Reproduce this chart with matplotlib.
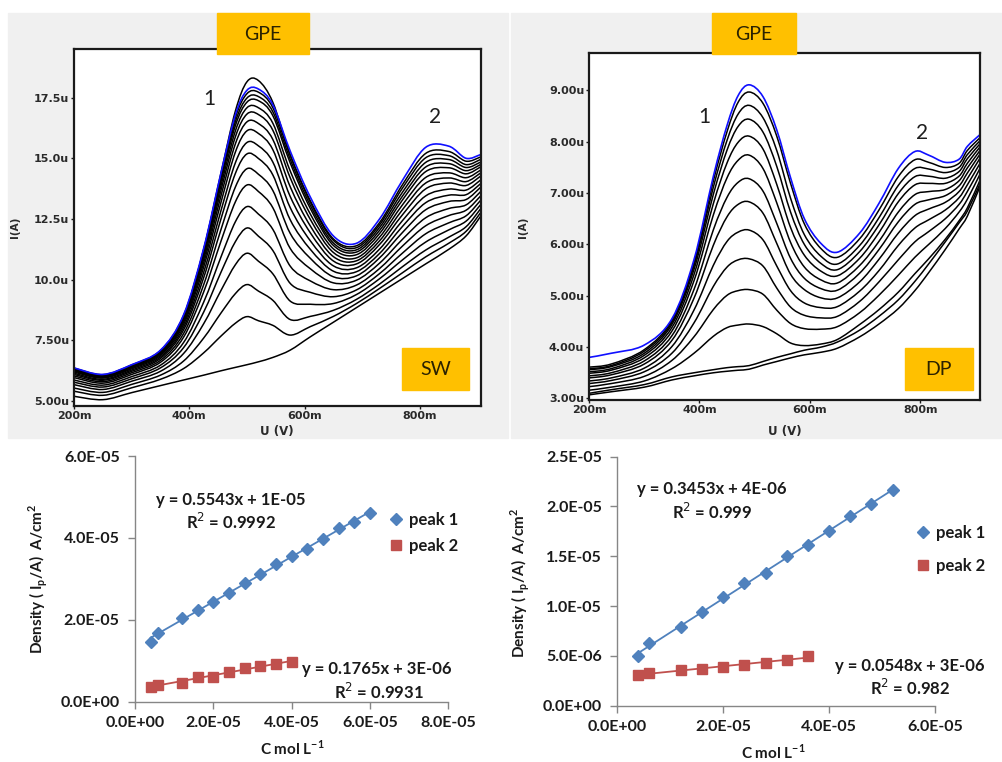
import numpy as np
import matplotlib
matplotlib.use("Agg")
import matplotlib.pyplot as plt
from matplotlib.patches import Rectangle, PathPatch
from matplotlib.path import Path
from matplotlib.ticker import FuncFormatter

W, H = 1003, 762

# ---------- square wave voltammograms (U in mV, I in uA) ----------
sw_u = [200, 250, 300, 350, 390, 425, 455, 480, 500, 520, 545, 575, 610, 650, 690, 730, 770, 810, 850, 880, 905]
sw_blank = [5.2, 5.06, 5.35, 5.64, 5.87, 6.07, 6.25, 6.39, 6.5, 6.62, 6.8, 7.1, 7.65, 8.25, 8.85, 9.45, 10.05, 10.65, 11.25, 11.8, 12.6]
sw_curves = [
    [5.41, 5.24, 5.55, 5.9, 6.34, 6.99, 7.68, 8.21, 8.48, 8.31, 8.12, 7.72, 8.07, 8.49, 9.02, 9.64, 10.29, 10.94, 11.5, 11.99, 12.75],
    [5.54, 5.36, 5.69, 6.07, 6.65, 7.6, 8.63, 9.43, 9.8, 9.53, 9.15, 8.36, 8.49, 8.74, 9.19, 9.82, 10.54, 11.22, 11.75, 12.18, 12.91],
    [5.68, 5.48, 5.82, 6.23, 6.96, 8.19, 9.56, 10.62, 11.09, 10.76, 10.24, 9.12, 8.99, 9.02, 9.39, 10.04, 10.82, 11.55, 12.05, 12.41, 13.08],
    [5.78, 5.58, 5.92, 6.37, 7.2, 8.67, 10.31, 11.57, 12.13, 11.79, 11.2, 9.85, 9.48, 9.3, 9.58, 10.25, 11.1, 11.89, 12.34, 12.63, 13.26],
    [5.87, 5.66, 6.01, 6.48, 7.41, 9.08, 10.94, 12.39, 13.01, 12.7, 12.07, 10.56, 9.95, 9.59, 9.78, 10.46, 11.39, 12.22, 12.64, 12.86, 13.44],
    [5.97, 5.74, 6.1, 6.6, 7.63, 9.5, 11.59, 13.21, 13.9, 13.63, 12.96, 11.29, 10.45, 9.87, 9.98, 10.68, 11.67, 12.55, 12.93, 13.08, 13.62],
    [6.04, 5.8, 6.17, 6.68, 7.78, 9.8, 12.07, 13.82, 14.57, 14.34, 13.67, 11.91, 10.88, 10.12, 10.16, 10.9, 11.95, 12.88, 13.22, 13.3, 13.8],
    [6.1, 5.86, 6.23, 6.76, 7.93, 10.09, 12.51, 14.38, 15.18, 14.99, 14.31, 12.47, 11.25, 10.35, 10.33, 11.08, 12.2, 13.17, 13.48, 13.5, 13.95],
    [6.15, 5.9, 6.28, 6.82, 8.04, 10.31, 12.85, 14.82, 15.65, 15.51, 14.84, 12.97, 11.6, 10.57, 10.49, 11.26, 12.44, 13.45, 13.73, 13.69, 14.1],
    [6.2, 5.95, 6.33, 6.88, 8.15, 10.53, 13.19, 15.26, 16.13, 16.02, 15.35, 13.43, 11.93, 10.77, 10.65, 11.45, 12.68, 13.74, 13.98, 13.88, 14.26],
    [6.24, 5.98, 6.37, 6.93, 8.24, 10.7, 13.46, 15.6, 16.5, 16.43, 15.77, 13.83, 12.21, 10.95, 10.78, 11.6, 12.89, 13.98, 14.19, 14.04, 14.39],
    [6.27, 6.01, 6.4, 6.97, 8.32, 10.85, 13.69, 15.89, 16.82, 16.8, 16.15, 14.2, 12.48, 11.12, 10.9, 11.75, 13.09, 14.21, 14.4, 14.2, 14.51],
    [6.3, 6.03, 6.43, 7.01, 8.38, 10.97, 13.88, 16.13, 17.08, 17.08, 16.44, 14.48, 12.7, 11.27, 11.03, 11.9, 13.29, 14.45, 14.61, 14.36, 14.64],
    [6.32, 6.06, 6.45, 7.04, 8.43, 11.07, 14.05, 16.35, 17.31, 17.37, 16.75, 14.81, 12.93, 11.41, 11.14, 12.03, 13.45, 14.64, 14.78, 14.49, 14.74],
    [6.34, 6.07, 6.47, 7.06, 8.47, 11.15, 14.17, 16.51, 17.48, 17.54, 16.91, 14.96, 13.06, 11.51, 11.23, 12.15, 13.61, 14.83, 14.95, 14.62, 14.84],
    [6.36, 6.09, 6.49, 7.08, 8.52, 11.24, 14.3, 16.68, 17.66, 17.72, 17.08, 15.12, 13.19, 11.62, 11.32, 12.26, 13.78, 15.02, 15.11, 14.74, 14.95],
    [6.3, 6.02, 6.45, 7.05, 8.45, 11.25, 14.4, 16.95, 18.15, 18.2, 17.3, 15.15, 13.25, 11.68, 11.4, 12.35, 13.92, 15.2, 15.28, 14.88, 15.05],
]
sw_last = [6.37, 6.1, 6.5, 7.1, 8.55, 11.3, 14.4, 16.8, 17.8, 17.85, 17.2, 15.3, 13.4, 11.8, 11.5, 12.5, 14.1, 15.45, 15.5, 15.0, 15.15]

# ---------- differential pulse voltammograms ----------
dp_u = [200, 240, 300, 350, 390, 425, 450, 470, 490, 515, 540, 565, 590, 620, 650, 690, 725, 760, 790, 815, 845, 870, 885, 908]
dp_blank = [3.07, 3.13, 3.22, 3.36, 3.44, 3.5, 3.53, 3.55, 3.57, 3.65, 3.72, 3.79, 3.85, 3.9, 3.98, 4.2, 4.45, 4.75, 5.1, 5.45, 5.9, 6.3, 6.55, 7.13]
dp_blank2 = [3.1, 3.17, 3.27, 3.42, 3.5, 3.56, 3.6, 3.62, 3.64, 3.72, 3.8, 3.87, 3.94, 4.0, 4.1, 4.33, 4.6, 4.92, 5.28, 5.62, 6.05, 6.42, 6.65, 7.18]
dp_curves = [
    [3.16, 3.22, 3.34, 3.58, 3.88, 4.21, 4.38, 4.43, 4.45, 4.4, 4.26, 4.08, 4.03, 4.06, 4.15, 4.44, 4.73, 5.07, 5.43, 5.72, 6.1, 6.46, 6.71, 7.25],
    [3.23, 3.29, 3.43, 3.74, 4.2, 4.73, 5.01, 5.1, 5.12, 5.03, 4.72, 4.46, 4.36, 4.35, 4.4, 4.67, 5.01, 5.4, 5.75, 6.0, 6.31, 6.63, 6.88, 7.37],
    [3.29, 3.35, 3.52, 3.88, 4.47, 5.18, 5.56, 5.7, 5.72, 5.58, 5.15, 4.78, 4.62, 4.57, 4.6, 4.89, 5.27, 5.7, 6.05, 6.25, 6.5, 6.78, 7.03, 7.48],
    [3.34, 3.4, 3.59, 4.01, 4.72, 5.59, 6.06, 6.24, 6.28, 6.09, 5.58, 5.1, 4.86, 4.77, 4.79, 5.09, 5.49, 5.98, 6.32, 6.48, 6.67, 6.91, 7.16, 7.58],
    [3.4, 3.46, 3.67, 4.13, 4.95, 5.98, 6.54, 6.78, 6.83, 6.61, 6.02, 5.42, 5.12, 4.96, 4.96, 5.27, 5.71, 6.22, 6.56, 6.69, 6.82, 7.03, 7.28, 7.68],
    [3.44, 3.5, 3.73, 4.22, 5.12, 6.28, 6.92, 7.21, 7.28, 7.04, 6.41, 5.73, 5.34, 5.14, 5.11, 5.44, 5.9, 6.44, 6.78, 6.87, 6.95, 7.14, 7.39, 7.76],
    [3.49, 3.55, 3.79, 4.31, 5.29, 6.57, 7.3, 7.64, 7.74, 7.48, 6.81, 6.04, 5.56, 5.31, 5.25, 5.59, 6.06, 6.63, 6.97, 7.03, 7.07, 7.24, 7.49, 7.83],
    [3.52, 3.58, 3.84, 4.38, 5.41, 6.79, 7.59, 7.99, 8.11, 7.86, 7.17, 6.33, 5.79, 5.48, 5.39, 5.73, 6.23, 6.83, 7.16, 7.19, 7.19, 7.33, 7.58, 7.9],
    [3.56, 3.62, 3.88, 4.44, 5.51, 6.97, 7.84, 8.3, 8.44, 8.19, 7.52, 6.63, 6.0, 5.63, 5.51, 5.86, 6.38, 6.99, 7.32, 7.33, 7.29, 7.42, 7.67, 7.96],
    [3.58, 3.64, 3.92, 4.48, 5.58, 7.11, 8.03, 8.54, 8.71, 8.47, 7.83, 6.9, 6.19, 5.77, 5.62, 5.98, 6.52, 7.15, 7.48, 7.47, 7.4, 7.5, 7.75, 8.02],
    [3.61, 3.67, 3.95, 4.52, 5.64, 7.23, 8.2, 8.77, 8.97, 8.75, 8.11, 7.19, 6.4, 5.92, 5.75, 6.11, 6.67, 7.32, 7.65, 7.6, 7.5, 7.58, 7.83, 8.08],
]
dp_last = [3.8, 3.88, 4.04, 4.55, 5.7, 7.32, 8.32, 8.9, 9.11, 8.88, 8.23, 7.3, 6.5, 6.02, 5.85, 6.22, 6.8, 7.48, 7.81, 7.74, 7.6, 7.66, 7.91, 8.14]

sw_yticks = [5.0, 7.5, 10.0, 12.5, 15.0, 17.5]
sw_ylabels = ["5.00u", "7.50u", "10.0u", "12.5u", "15.0u", "17.5u"]
dp_yticks = [3, 4, 5, 6, 7, 8, 9]
dp_ylabels = ["3.00u", "4.00u", "5.00u", "6.00u", "7.00u", "8.00u", "9.00u"]
u_ticks = [200, 400, 600, 800]
u_labels = ["200m", "400m", "600m", "800m"]

# ---------- calibration data (C and density in units of 1e-6) ----------
sw_c1 = [4, 6, 12, 16, 20, 24, 28, 32, 36, 40, 44, 48, 52, 56, 60]
sw_d1 = [14.65, 16.85, 20.4, 22.4, 24.4, 26.5, 29.1, 31.1, 33.6, 35.6, 37.3, 39.7, 42.3, 44.0, 46.0]
sw_c2 = [4, 6, 12, 16, 20, 24, 28, 32, 36, 40]
sw_d2 = [3.7, 4.1, 4.6, 6.1, 6.1, 7.2, 8.2, 8.7, 9.2, 9.8]
dp_c1 = [4, 6, 12, 16, 20, 24, 28, 32, 36, 40, 44, 48, 52]
dp_d1 = [5.0, 6.3, 7.9, 9.4, 10.9, 12.3, 13.3, 15.0, 16.1, 17.5, 19.0, 20.3, 21.7]
dp_c2 = [4, 6, 12, 16, 20, 24, 28, 32, 36]
dp_d2 = [3.07, 3.3, 3.57, 3.73, 3.9, 4.13, 4.33, 4.57, 4.97]

sw_eq = ["y = 0.5543x + 1E-05", "R$^2$ = 0.9992", "y = 0.1765x + 3E-06", "R$^2$ = 0.9931"]
dp_eq = ["y = 0.3453x + 4E-06", "R$^2$ = 0.999", "y = 0.0548x + 3E-06", "R$^2$ = 0.982"]

BLUE = "#4F81BD"
RED = "#C0504D"
GOLD = "#FFC000"


def rect(l, t, r, b):
    return [l / W, 1 - b / H, (r - l) / W, (b - t) / H]


def fx(x):
    return x / W


def fy(y):
    return 1 - y / H


def smooth_line(ax, x, y, **kw):
    # joins the read points with smooth bezier pieces that pass through every point
    x = np.asarray(x, float)
    y = np.asarray(y, float)
    n = len(x)
    verts = [(x[0], y[0])]
    codes = [Path.MOVETO]
    for i in range(n - 1):
        xa, ya = (x[i - 1], y[i - 1]) if i > 0 else (x[i], y[i])
        xb, yb = (x[i + 2], y[i + 2]) if i + 2 < n else (x[i + 1], y[i + 1])
        verts.append((x[i] + (x[i + 1] - xa) / 6, y[i] + (y[i + 1] - ya) / 6))
        verts.append((x[i + 1] - (xb - x[i]) / 6, y[i + 1] - (yb - y[i]) / 6))
        verts.append((x[i + 1], y[i + 1]))
        codes += [Path.CURVE4] * 3
    ax.add_patch(PathPatch(Path(verts, codes), fill=False, capstyle="round",
                           joinstyle="round", **kw))


fig = plt.figure(figsize=(W / 100, H / 100), dpi=100)

# grey panels behind the voltammograms
for l, r in [(8, 508), (511, 1003)]:
    fig.patches.append(Rectangle((fx(l), fy(438)), (r - l) / W, (438 - 13) / H,
                                 transform=fig.transFigure, color="#f0f0f0", zorder=-5))


def voltammogram(box, u, blank, curves, last, xmax, ylim, yticks, ylabels, extra=None):
    ax = fig.add_axes(rect(*box))
    ax.set_facecolor("white")
    smooth_line(ax, u, blank, edgecolor="black", lw=1.1)
    if extra is not None:
        smooth_line(ax, u, extra, edgecolor="black", lw=1.1)
    for c in curves:
        smooth_line(ax, u, c, edgecolor="black", lw=1.1)
    smooth_line(ax, u, last, edgecolor="#1010ff", lw=1.2)
    ax.set_xlim(200, xmax)
    ax.set_ylim(*ylim)
    ax.set_xticks(u_ticks)
    ax.set_xticklabels(u_labels)
    ax.set_yticks(yticks)
    ax.set_yticklabels(ylabels)
    for s in ax.spines.values():
        s.set_linewidth(1.6)
        s.set_color("#1a1a1a")
    ax.tick_params(direction="out", length=2.5, width=1, pad=1, labelsize=8,
                   labelcolor="#2a2a2a", color="#1a1a1a")
    for t in ax.get_xticklabels() + ax.get_yticklabels():
        t.set_fontweight("bold")
    return ax


voltammogram((74, 49, 481, 406), sw_u, sw_blank, sw_curves, sw_last, 906,
             (4.8, 19.5), sw_yticks, sw_ylabels)
voltammogram((589, 53, 980, 400), dp_u, dp_blank, dp_curves, dp_last, 908,
             (2.97, 9.73), dp_yticks, dp_ylabels, extra=dp_blank2)

# labels of the voltammograms
for x in (277, 785):
    fig.text(fx(x), fy(432), "U (V)", ha="center", va="center", fontsize=8.5,
             fontweight="bold", color="#2a2a2a")
for x in (15, 523):
    fig.text(fx(x), fy(227), "I(A)", ha="center", va="center", fontsize=7.5,
             fontweight="bold", color="#2a2a2a", rotation=90)

# orange tags
for (l, t, r, b), txt in [((217, 13, 309, 54), "GPE"), ((712, 13, 796, 54), "GPE"),
                          ((402, 348, 469, 390), "SW"), ((905, 348, 973, 390), "DP")]:
    fig.patches.append(Rectangle((fx(l), fy(b)), (r - l) / W, (b - t) / H,
                                 transform=fig.transFigure, color=GOLD, zorder=5))
    fig.text(fx((l + r) / 2), fy((t + b) / 2 + 1), txt, ha="center", va="center",
             fontsize=14, family="Lato", color="#2b2200", zorder=6)

for (x, y), txt in [((209, 99), "1"), ((435, 117), "2"), ((704, 117), "1"), ((922, 133), "2")]:
    fig.text(fx(x), fy(y), txt, ha="center", va="center", fontsize=15,
             family="Lato", color="#1e1e1e")


# ---------- calibration plots ----------
def calibration(box, c1, d1, c2, d2, xmax, ymax, xstep, ystep, eq, eqpos, legpos, legspace):
    ax = fig.add_axes(rect(*box))
    c1 = np.array(c1) * 1e-6
    d1 = np.array(d1) * 1e-6
    c2 = np.array(c2) * 1e-6
    d2 = np.array(d2) * 1e-6
    for c, d, col in [(c1, d1, BLUE), (c2, d2, RED)]:
        k, b = np.polyfit(c, d, 1)
        xs = np.array([c.min(), c.max()])
        ax.plot(xs, k * xs + b, color=col, lw=1.3, zorder=2)
    h1, = ax.plot(c1, d1, "D", color=BLUE, ms=6, zorder=3)
    h2, = ax.plot(c2, d2, "s", color=RED, ms=6.5, zorder=3)
    ax.set_xlim(0, xmax)
    ax.set_ylim(0, ymax)
    ax.set_xticks(np.arange(0, xmax + 1e-12, xstep))
    ax.set_yticks(np.arange(0, ymax + 1e-12, ystep))
    fmt = FuncFormatter(lambda v, p: f"{v:.1E}")
    ax.xaxis.set_major_formatter(fmt)
    ax.yaxis.set_major_formatter(fmt)
    for s in ("top", "right"):
        ax.spines[s].set_visible(False)
    for s in ("left", "bottom"):
        ax.spines[s].set_color("#868686")
        ax.spines[s].set_linewidth(1.0)
    ax.tick_params(direction="out", length=5, width=1, color="#868686",
                   labelsize=11.5, labelcolor="#1a1a1a")
    ax.tick_params(axis="y", pad=6)
    ax.tick_params(axis="x", pad=5)
    for t in ax.get_xticklabels() + ax.get_yticklabels():
        t.set_family("Lato")
        t.set_fontweight("bold")
    for txt, (x, y) in zip(eq, eqpos):
        ax.text(x, y, txt, transform=ax.transAxes, ha="center", va="center",
                fontsize=12, family="Lato", fontweight="bold", color="#1a1a1a")
    leg = ax.legend([h1, h2], ["peak 1", "peak 2"], loc="center left",
                    bbox_to_anchor=legpos, frameon=False, borderaxespad=0,
                    borderpad=0, handlelength=0.8, handletextpad=0.4,
                    labelspacing=legspace, prop={"family": "Lato", "size": 12,
                                                 "weight": "bold"})
    for t in leg.get_texts():
        t.set_color("#1a1a1a")
    return ax


calibration((135, 456, 448.3, 701.7), sw_c1, sw_d1, sw_c2, sw_d2, 8e-5, 6e-5, 2e-5, 2e-5,
            sw_eq, [(0.306, 0.821), (0.306, 0.733), (0.771, 0.132), (0.779, 0.038)],
            (0.812, 0.687), 0.62)
calibration((617.3, 456.7, 935, 705.7), dp_c1, dp_d1, dp_c2, dp_d2, 6e-5, 2.5e-5, 2e-5, 5e-6,
            dp_eq, [(0.297, 0.869), (0.297, 0.779), (0.921, 0.159), (0.921, 0.07)],
            (0.94, 0.628), 1.0)

ylab = "Density ( I$_\\mathregular{p}$/A)  A/cm$^\\mathregular{2}$"
for x, y in [(38, 579), (520, 583)]:
    fig.text(fx(x), fy(y), ylab, ha="center", va="center", rotation=90,
             fontsize=11, family="Lato", fontweight="bold", color="#1a1a1a")
for x, y in [(292, 748), (773, 752)]:
    fig.text(fx(x), fy(y), "C mol L$^\\mathregular{-1}$", ha="center", va="center",
             fontsize=11, family="Lato", fontweight="bold", color="#1a1a1a")

fig.savefig("out.png", dpi=100)
